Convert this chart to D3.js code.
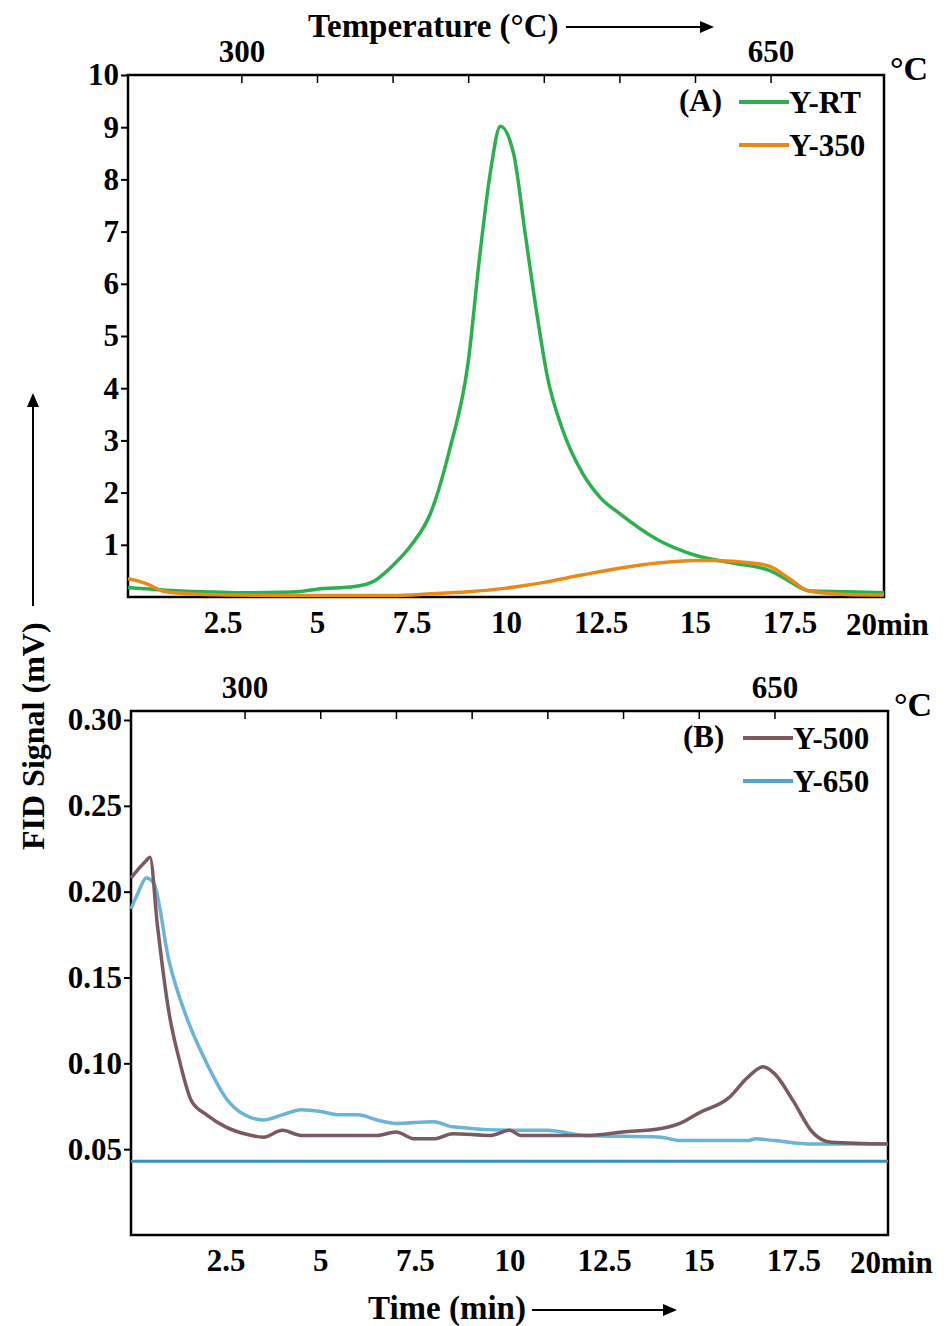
<!DOCTYPE html><html><head><meta charset="utf-8"><script src="https://cdn.jsdelivr.net/npm/d3@7"></script>
<style>body{margin:0;background:#fff}text{font-family:"Liberation Serif",serif;font-weight:bold}</style></head><body>
<svg id="c" width="950" height="1326"></svg>
<script>
const timeTicks=[2.5,5,7.5,10,12.5,15,17.5];
const tempTickPos=[3,5,7,9,11,13,15,17];
const tempLabels={3:"300",17:"650"};
const yTicksA=[1,2,3,4,5,6,7,8,9,10];
const yTicksB=[0.05,0.10,0.15,0.20,0.25,0.30];
const yRT=[[0,0.18],[1,0.13],[2,0.1],[3,0.08],[4,0.09],[4.5,0.1],[5,0.15],[6,0.2],[6.5,0.3],[7,0.6],[7.5,1.0],[8,1.6],[8.5,2.8],[9,4.5],[9.3,6.5],[9.6,8.2],[9.85,9.02],[10.2,8.5],[10.5,7.0],[10.8,5.5],[11.1,4.2],[11.5,3.2],[12,2.4],[12.5,1.9],[13,1.6],[14,1.1],[15,0.8],[16,0.65],[17,0.5],[17.5,0.3],[18,0.12],[19,0.1],[20,0.08]];
const y350=[[0,0.35],[0.3,0.3],[0.5,0.25],[1,0.1],[2,0.05],[4,0.03],[7,0.03],[8,0.06],[9,0.1],[10,0.17],[11,0.28],[12,0.42],[13,0.55],[14,0.65],[15,0.7],[15.5,0.7],[16.5,0.65],[17,0.58],[17.5,0.35],[18,0.12],[19,0.05],[20,0.04]];
const y500=[[0,0.208],[0.4,0.218],[0.5,0.22],[0.7,0.18],[1,0.13],[1.3,0.1],[1.6,0.078],[2,0.07],[2.5,0.063],[3,0.059],[3.5,0.057],[4,0.061],[4.5,0.058],[5,0.058],[6,0.058],[6.5,0.058],[7,0.06],[7.5,0.056],[8,0.056],[8.5,0.059],[9.5,0.058],[10,0.061],[10.3,0.058],[11,0.058],[12,0.058],[13,0.06],[14,0.062],[14.5,0.065],[15,0.071],[15.8,0.08],[16.3,0.092],[16.7,0.098],[17,0.094],[17.5,0.078],[18,0.06],[18.5,0.054],[20,0.053]];
const y650=[[0,0.19],[0.2,0.2],[0.4,0.208],[0.6,0.205],[1,0.16],[1.5,0.125],[2,0.1],[2.5,0.08],[3,0.07],[3.5,0.067],[4,0.07],[4.5,0.073],[5,0.072],[5.5,0.07],[6,0.07],[6.5,0.067],[7,0.065],[8,0.066],[8.5,0.063],[10,0.061],[11,0.061],[12,0.058],[14,0.057],[14.5,0.055],[16.3,0.055],[16.5,0.056],[17,0.055],[18,0.053],[20,0.053]];
const baseB=[[0,0.043],[20,0.043]];
const svg=d3.select("#c");
const FS=31;
function panel(o){
  const x=d3.scaleLinear().domain([0,20]).range([o.x0,o.x1]);
  const y=d3.scaleLinear().domain(o.yd).range([o.yb,o.yt]);
  const g=svg.append("g");
  g.append("rect").attr("x",o.x0).attr("y",o.top).attr("width",o.x1-o.x0).attr("height",o.yb-o.top).attr("fill","none").attr("stroke","#000").attr("stroke-width",2.5);
  const ax=g.append("g").attr("transform",`translate(0,${o.yb})`).call(d3.axisBottom(x).tickValues(timeTicks).tickSize(0).tickPadding(14).tickFormat(d=>d));
  ax.select(".domain").remove();ax.selectAll("text").attr("font-size",FS).attr("font-family","Liberation Serif");
  g.append("text").attr("x",o.x1-38).attr("y",o.yb+38).attr("font-size",FS).text("20min");
  const at=g.append("g").attr("transform",`translate(0,${o.top})`).call(d3.axisTop(x).tickValues(tempTickPos).tickSize(8).tickFormat(d=>tempLabels[d]||""));
  at.select(".domain").remove();at.selectAll("line").attr("stroke-width",1.5).attr("transform","translate(0,8)");
  at.selectAll("text").attr("font-size",FS).attr("font-family","Liberation Serif").attr("dy","-0.05em");
  g.append("text").attr("x",o.x1+6).attr("y",o.top+5).attr("font-size",34).text("°C");
  const ay=g.append("g").attr("transform",`translate(${o.x0},0)`).call(d3.axisLeft(y).tickValues(o.yt_).tickSize(7).tickPadding(2).tickFormat(o.fmt));
  ay.select(".domain").remove();ay.selectAll("line").attr("stroke-width",2);ay.selectAll("text").attr("font-size",FS).attr("font-family","Liberation Serif").attr("fill","#000");
  const line=d3.line().x(d=>x(d[0])).y(d=>y(d[1])).curve(d3.curveMonotoneX);
  o.series.forEach(s=>g.append("path").attr("d",line(s.d)).attr("fill","none").attr("stroke",s.c).attr("stroke-width",s.w||3.5));
  g.append("text").attr("x",o.x1-205).attr("y",o.top+36).attr("font-size",FS).text(o.tag);
  o.legend.forEach((s,i)=>{const ly=o.top+27+i*43;
    g.append("line").attr("x1",o.x1-145).attr("x2",o.x1-95).attr("y1",ly).attr("y2",ly).attr("stroke",s.c).attr("stroke-width",4);
    g.append("text").attr("x",o.x1-95).attr("y",ly+11).attr("font-size",FS).text(s.n);});
}
panel({x0:128,x1:884,top:75,yb:597,yt:75,yd:[0,10],yt_:yTicksA,fmt:d=>d,tag:"(A)",
 series:[{d:yRT,c:"#2bb04e"},{d:y350,c:"#e98a18"}],legend:[{n:"Y-RT",c:"#2bb04e"},{n:"Y-350",c:"#e98a18"}]});
panel({x0:131,x1:888,top:711,yb:1235,yt:720,yd:[0,0.30],yt_:yTicksB,fmt:d3.format(".2f"),tag:"(B)",
 series:[{d:baseB,c:"#3a8fb5",w:3},{d:y650,c:"#6ab4d6"},{d:y500,c:"#7a5a5e"}],legend:[{n:"Y-500",c:"#7a5a5e"},{n:"Y-650",c:"#4ea6cf"}]});
svg.append("text").attr("x",308).attr("y",37).attr("font-size",33).text("Temperature (°C)");
svg.append("line").attr("x1",566).attr("x2",702).attr("y1",27).attr("y2",27).attr("stroke","#000").attr("stroke-width",2);
svg.append("path").attr("d","M714,27 L700,21 L700,33Z");
svg.append("text").attr("x",368).attr("y",1319).attr("font-size",33).text("Time (min)");
svg.append("line").attr("x1",532).attr("x2",665).attr("y1",1310).attr("y2",1310).attr("stroke","#000").attr("stroke-width",2);
svg.append("path").attr("d","M677,1310 L663,1304 L663,1316Z");
svg.append("text").attr("transform","translate(44,850) rotate(-90)").attr("font-size",32).text("FID Signal (mV)");
svg.append("line").attr("x1",33).attr("x2",33).attr("y1",606).attr("y2",405).attr("stroke","#000").attr("stroke-width",2);
svg.append("path").attr("d","M33,393 L27,407 L39,407Z");
</script></body></html>
